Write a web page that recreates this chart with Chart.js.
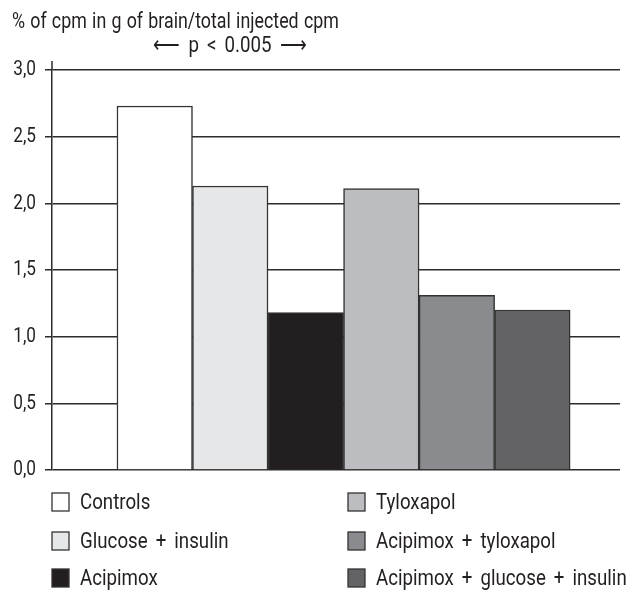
<!DOCTYPE html>
<html>
<head>
<meta charset="utf-8">
<script src="https://cdn.jsdelivr.net/npm/chart.js@4"></script>
<style>
    html, body { margin: 0; padding: 0; background: #fff; }
    #wrap { width: 634px; height: 592px; position: relative; }
</style>
</head>
<body>
<div id="wrap"><canvas id="chart" width="634" height="592"></canvas></div>
<script>
// chart data
const groups = ['Controls', 'Glucose + insulin', 'Acipimox', 'Tyloxapol', 'Acipimox + tyloxapol', 'Acipimox + glucose + insulin'];
const brainUptake = [2.73, 2.13, 1.18, 2.11, 1.31, 1.20];
const fills = ['#ffffff', '#e6e7e8', '#231f20', '#bcbdc0', '#8a8b8e', '#636365'];
const yTicks = [0, 0.5, 1.0, 1.5, 2.0, 2.5, 3.0];
const headerText = '% of cpm in g of brain/total injected cpm';
const pText = '\u27f5 p < 0.005 \u27f6';

const FONT = 'Roboto, "Liberation Sans", sans-serif';
const INK = '#231f20';

// no condensed face installed, so squash glyphs by hand
function squeezedText( ctx, text, x, y, size, align, squeeze, gap ) {
    ctx.save();
    ctx.font = size + 'px ' + FONT;
    ctx.wordSpacing = (gap || 0) + 'px';
    ctx.textBaseline = 'middle';
    const w = ctx.measureText(text).width * squeeze;
    let left = x;
    if( align === 'center' ) left = x - w / 2;
    else if( align === 'right' ) left = x - w;
    ctx.translate(left, y);
    ctx.scale(squeeze, 1);
    ctx.textAlign = 'left';
    ctx.fillStyle = INK;
    ctx.fillText(text, 0, 0);
    ctx.restore();
}

// header lines, y labels and a two column legend
const extras = {
    id: 'extras',
    afterDraw( chart ) {
        const ctx = chart.ctx;
        const area = chart.chartArea;
        const yScale = chart.scales.y;

        squeezedText(ctx, headerText, 12, 22, 22, 'left', 0.81, 1);
        squeezedText(ctx, pText, 230, 46, 22, 'center', 0.85, 4);

        yTicks.forEach( v => {
            squeezedText(ctx, v.toFixed(1).replace('.', ','), 36, yScale.getPixelForValue(v), 21, 'right', 0.82, 0);
        });

        // axis line pokes a little above the top gridline
        ctx.save();
        ctx.strokeStyle = '#2b2b2b';
        ctx.lineWidth = 1.5;
        ctx.beginPath();
        ctx.moveTo(area.left, area.top - 9);
        ctx.lineTo(area.left, area.top);
        ctx.stroke();
        ctx.restore();

        // legend
        const colX = [52, 348];
        const rowY = [area.bottom + 32, area.bottom + 71, area.bottom + 108];
        groups.forEach( (name, i) => {
            const x = colX[Math.floor(i / 3)];
            const y = rowY[i % 3];
            ctx.save();
            ctx.fillStyle = fills[i];
            ctx.fillRect(x, y - 9, 17, 18);
            ctx.strokeStyle = '#333';
            ctx.lineWidth = 1.3;
            ctx.strokeRect(x, y - 9, 17, 18);
            ctx.restore();
            squeezedText(ctx, name, x + 28, y + 1, 22, 'left', 0.85, 4);
        });
    }
};

const config = {
    type: 'bar',
    data: {
        datasets: [{
            data: brainUptake.map( (v, i) => ({ x: i, y: v }) ),
            backgroundColor: fills,
            borderColor: '#333333',
            borderWidth: 1.5,
            barPercentage: 1.0,
            categoryPercentage: 1.0
        }]
    },
    options: {
        responsive: false,
        animation: false,
        layout: { padding: { top: 70, right: 14, bottom: 122, left: 0 } },
        plugins: {
            legend: { display: false },
            tooltip: { enabled: false }
        },
        scales: {
            x: {
                type: 'linear',
                min: -1.36,
                max: 6.16,
                offset: false,
                display: false
            },
            y: {
                min: 0,
                max: 3,
                afterFit: scale => { scale.width = 52; },
                afterBuildTicks: scale => { scale.ticks = yTicks.map( v => ({ value: v }) ); },
                ticks: { display: false },
                grid: {
                    color: '#2b2b2b',
                    lineWidth: 1.5,
                    drawTicks: true,
                    tickLength: 7
                },
                border: { display: true, color: '#2b2b2b', width: 1.5 }
            }
        }
    },
    plugins: [extras]
};

new Chart(document.getElementById('chart'), config);
</script>
</body>
</html>
